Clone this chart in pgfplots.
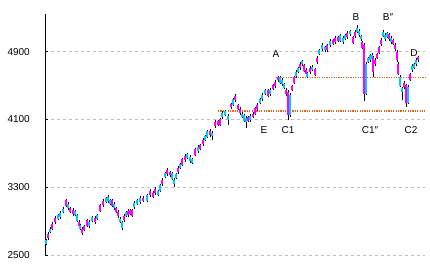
\documentclass[border=0pt]{standalone}
\usepackage{pgfplots}
\usepackage{pgfplotstable}
\pgfplotsset{compat=1.18}
\usepackage{fontspec}
\setmainfont{Liberation Sans}
\definecolor{upc}{RGB}{0,200,250}
\definecolor{dnc}{RGB}{255,0,255}
\definecolor{dotc}{RGB}{230,100,20}
% x, up(1)/down(0), body low, body high, wick low, wick high
\pgfplotstableread{
x u lo hi wl wh
46 1 2634 2674 2614 2694
48 0 2696 2752 2676 2772
50 1 2777 2813 2757 2833
52 0 2812 2872 2792 2892
55 0 2890 2936 2870 2956
58 1 2929 2969 2909 2989
60 1 2944 3000 2924 3020
63 1 3013 3049 2993 3069
66 0 3084 3144 3064 3164
68 1 3056 3102 3036 3122
70 0 3011 3051 2991 3071
73 0 2980 3036 2960 3056
75 1 2978 3014 2958 3034
77 1 2907 2967 2887 2987
79 0 2843 2889 2823 2909
80 1 2811 2851 2791 2871
82 0 2755 2811 2735 2831
84 0 2801 2837 2781 2857
87 0 2848 2908 2828 2928
89 1 2843 2889 2823 2909
92 1 2905 2945 2885 2965
95 0 2885 2941 2865 2961
97 1 2931 2967 2911 2987
100 0 3025 3085 3005 3105
103 0 3091 3137 3071 3157
106 1 3130 3170 3110 3190
108 1 3133 3189 3113 3209
110 1 3108 3144 3088 3164
112 0 3084 3144 3064 3164
114 1 3056 3102 3036 3122
116 0 3011 3051 2991 3071
118 0 2956 3012 2936 3032
120 1 2895 2931 2875 2951
122 1 2824 2884 2790 2904
124 0 2914 2960 2894 2980
126 1 2964 3004 2944 3024
128 0 2968 3024 2948 3044
130 0 2990 3026 2970 3046
132 0 2966 3026 2946 3046
134 1 3067 3113 3047 3133
137 1 3106 3146 3086 3166
140 1 3122 3178 3102 3198
143 0 3143 3179 3123 3199
147 1 3143 3203 3123 3223
150 0 3209 3255 3189 3275
153 0 3190 3230 3170 3250
155 0 3228 3284 3208 3304
158 1 3214 3250 3194 3270
160 1 3261 3321 3241 3341
162 0 3339 3385 3319 3405
165 1 3425 3465 3405 3485
167 0 3452 3508 3432 3528
170 0 3439 3475 3419 3495
172 1 3403 3463 3383 3483
174 1 3339 3385 3300 3405
176 1 3413 3453 3393 3473
178 0 3476 3532 3456 3552
180 1 3533 3569 3513 3589
182 0 3568 3628 3548 3648
185 0 3623 3669 3603 3689
187 1 3649 3689 3629 3709
190 1 3606 3662 3586 3682
192 1 3592 3628 3572 3648
195 0 3686 3746 3666 3766
198 1 3729 3775 3709 3795
200 0 3755 3795 3735 3815
203 0 3807 3863 3787 3883
205 1 3864 3900 3844 3920
207 1 3899 3959 3879 3979
210 0 3918 3964 3898 3984
212 1 3900 3940 3860 3960
215 0 4019 4075 3999 4095
218 0 4041 4077 4021 4097
220 0 4041 4101 4021 4121
222 1 4130 4176 4110 4196
225 1 4157 4197 4137 4217
228 1 4090 4146 4035 4166
231 0 4242 4278 4222 4298
233 1 4277 4337 4257 4357
235 0 4331 4377 4311 4397
238 0 4228 4268 4208 4288
240 0 4173 4229 4153 4249
242 1 4135 4171 4115 4191
244 1 4088 4148 4068 4168
246 1 4071 4117 4000 4137
248 0 4086 4126 4066 4146
250 1 4090 4146 4070 4166
253 0 4135 4171 4115 4191
255 0 4171 4231 4151 4251
257 0 4225 4271 4205 4291
260 1 4299 4339 4279 4359
262 1 4338 4394 4318 4414
265 1 4407 4443 4387 4463
268 0 4383 4443 4363 4463
270 1 4402 4448 4382 4468
273 0 4464 4504 4444 4524
275 0 4491 4547 4471 4567
278 0 4561 4597 4541 4617
280 1 4537 4597 4517 4617
282 1 4520 4566 4500 4586
284 1 4476 4516 4456 4536
286 0 4397 4453 4377 4473
288 0 4150 4425 4090 4445
290 1 4150 4390 4135 4410
292 0 4454 4490 4434 4510
294 0 4537 4597 4517 4617
296 1 4615 4661 4595 4681
298 1 4665 4705 4645 4725
300 0 4704 4760 4684 4780
302 1 4750 4786 4730 4806
304 0 4678 4738 4658 4758
306 0 4638 4684 4618 4704
307 1 4606 4646 4586 4666
310 0 4657 4713 4637 4733
312 1 4690 4726 4670 4746
315 0 4631 4691 4611 4711
317 0 4780 4826 4760 4846
319 1 4877 4917 4857 4937
322 1 4928 4984 4908 5004
325 1 4915 4951 4895 4971
327 0 4915 4975 4895 4995
330 1 4981 5027 4961 5047
333 0 4995 5035 4975 5055
335 0 5011 5067 4991 5087
338 0 5033 5069 5013 5089
340 1 5033 5093 5013 5113
343 1 5016 5062 4996 5082
345 1 5055 5095 5035 5115
347 0 5070 5126 5050 5146
350 1 5104 5140 5084 5160
353 0 5009 5069 4989 5089
355 0 5087 5133 5067 5153
357 1 5137 5177 5117 5216
359 1 5094 5150 5074 5170
361 1 5045 5081 5025 5101
362 0 4950 5010 4930 5030
364 0 4400 4980 4320 5000
366 1 4400 4756 4385 4775
368 1 4785 4821 4765 4841
370 1 4797 4857 4777 4877
372 1 4815 4861 4795 4881
373 0 4661 4838 4600 4855
375 0 4751 4807 4731 4827
377 0 4832 4868 4812 4888
379 0 4891 4951 4871 4971
381 0 4992 5038 4972 5058
383 1 5090 5130 5070 5157
385 1 5047 5103 5027 5123
387 1 5080 5116 5060 5136
389 0 5045 5105 5025 5125
391 1 5016 5062 4996 5082
393 0 4995 5035 4975 5055
395 0 4928 4984 4908 5004
397 0 4800 4900 4780 4920
398 0 4640 4760 4620 4780
400 1 4500 4600 4480 4620
402 1 4429 4469 4330 4489
404 0 4480 4536 4460 4556
406 0 4300 4508 4250 4525
408 1 4300 4484 4285 4505
410 0 4572 4632 4552 4652
412 1 4685 4731 4665 4751
414 1 4712 4752 4692 4772
416 1 4751 4807 4731 4827
418 0 4797 4833 4777 4853
}\data
\begin{document}
\begin{tikzpicture}
\useasboundingbox (0,0) rectangle (430pt,269pt);
\begin{axis}[
  at={(45pt,14pt)}, anchor=south west,
  scale only axis, width=380pt, height=241pt,
  xmin=45, xmax=425, ymin=2500, ymax=5346,
  axis x line=none, axis y line=left,
  y axis line style={-, black, line width=0.8pt},
  ytick={2500,3300,4100,4900},
  tick align=inside, major tick length=3pt,
  every tick/.style={black, line width=0.8pt},
  ymajorgrids, grid style={gray!50, line width=0.6pt, dash pattern=on 3pt off 3pt},
  /pgf/number format/1000 sep={},
  /pgf/number format/assume math mode=true,
  yticklabel style={anchor=east, inner sep=0pt, xshift=-15pt, font=\fontsize{10}{10}\selectfont},
  clip=false,
]
\addplot[draw=dotc, line width=1.2pt, dash pattern=on 1.2pt off 1.2pt, mark=none] coordinates {(218,4201) (425,4201)};
\addplot[draw=dotc, line width=1.2pt, dash pattern=on 1.2pt off 1.2pt, mark=none] coordinates {(276,4600) (425,4600)};
% wicks
\addplot[draw=none, mark=none, error bars/.cd, y dir=plus, y explicit, error mark=none,
  error bar style={draw=black, solid, line width=0.8pt}]
  table[x=x, y=wl, y error expr={\thisrow{wh}-\thisrow{wl}}] {\data};
% up bodies
\addplot[draw=none, mark=none, restrict expr to domain={\thisrow{u}}{0.5:1.5},
  error bars/.cd, y dir=plus, y explicit, error mark=none,
  error bar style={draw=upc, solid, line width=2.6pt}]
  table[x=x, y=lo, y error expr={\thisrow{hi}-\thisrow{lo}}] {\data};
% down bodies
\addplot[draw=none, mark=none, restrict expr to domain={\thisrow{u}}{-0.5:0.5},
  error bars/.cd, y dir=plus, y explicit, error mark=none,
  error bar style={draw=dnc, solid, line width=2.6pt}]
  table[x=x, y=lo, y error expr={\thisrow{hi}-\thisrow{lo}}] {\data};
\begin{scope}[every node/.style={font=\fontsize{10}{10}\selectfont, inner sep=0pt}]
\node at (axis cs:276,4874) {A};
\node at (axis cs:356,5311) {B};
\node at (axis cs:388,5311) {B″};
\node at (axis cs:414,4886) {D};
\node at (axis cs:264,3976) {E};
\node at (axis cs:288,3976) {C1};
\node at (axis cs:370,3976) {C1″};
\node at (axis cs:411,3976) {C2};
\end{scope}
\end{axis}
\end{tikzpicture}
\end{document}
